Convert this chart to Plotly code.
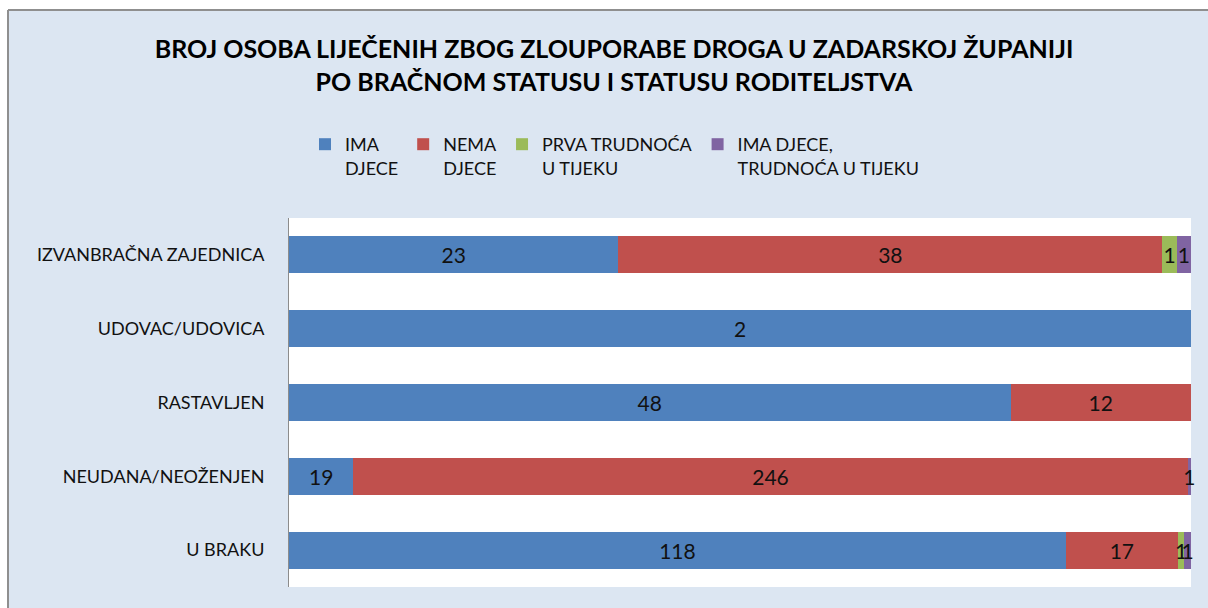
import plotly.graph_objects as go

# Marital status categories (bottom to top on the chart)
categories = ["U BRAKU", "NEUDANA/NEOŽENJEN", "RASTAVLJEN", "UDOVAC/UDOVICA", "IZVANBRAČNA ZAJEDNICA"]

# Number of treated persons per parenthood status
ima_djece = [118, 19, 48, 2, 23]
nema_djece = [17, 246, 12, 0, 38]
prva_trudnoca = [1, 0, 0, 0, 1]
ima_djece_trudnoca = [1, 1, 0, 0, 1]

series = [
    ("IMA<br>DJECE", ima_djece, "#4f81bd"),
    ("NEMA<br>DJECE", nema_djece, "#c0504d"),
    ("PRVA TRUDNOĆA<br>U TIJEKU", prva_trudnoca, "#9bbb59"),
    ("IMA DJECE,<br>TRUDNOĆA U TIJEKU", ima_djece_trudnoca, "#8064a2"),
]

W, H = 1208, 608
ML, MR, MT, MB = 289, 17, 218, 21
PW, PH = W - ML - MR, H - MT - MB


def px_x(px):
    return (px - ML) / PW


def px_y(py):
    return (H - MB - py) / PH


FONT = "Lato"
TEXT = "#111111"

fig = go.Figure()
for name, vals, color in series:
    fig.add_trace(go.Bar(
        y=categories,
        x=vals,
        name=name,
        orientation="h",
        marker=dict(color=color, line=dict(width=0)),
        text=[str(v) if v else "" for v in vals],
        textposition="inside",
        insidetextanchor="middle",
        textfont=dict(family=FONT, size=21, color=TEXT),
        constraintext="none",
        cliponaxis=False,
        hoverinfo="skip",
    ))

fig.update_layout(
    width=W,
    height=H,
    barmode="stack",
    barnorm="percent",
    bargap=0.5,
    margin=dict(l=ML, r=MR, t=MT, b=MB),
    paper_bgcolor="#dce6f2",
    plot_bgcolor="#ffffff",
    uniformtext=dict(minsize=21, mode="show"),
    font=dict(family=FONT, color=TEXT),
    title=dict(
        text="BROJ OSOBA LIJEČENIH ZBOG ZLOUPORABE DROGA U ZADARSKOJ ŽUPANIJI<br>PO BRAČNOM STATUSU I STATUSU RODITELJSTVA",
        font=dict(family=FONT, size=25, color="#000000", weight="bold"),
        x=614 / W,
        xanchor="center",
        xref="container",
        y=1 - 58 / H,
        yanchor="top",
        yref="container",
    ),
    legend=dict(
        orientation="h",
        x=305 / W,
        xanchor="left",
        xref="container",
        y=1 - 126 / H,
        yanchor="top",
        yref="container",
        valign="top",
        traceorder="normal",
        bgcolor="rgba(0,0,0,0)",
        font=dict(family=FONT, size=18, color=TEXT),
        itemclick=False,
        itemdoubleclick=False,
    ),
    xaxis=dict(
        range=[0, 100],
        showgrid=False,
        showticklabels=False,
        zeroline=False,
        showline=False,
        ticks="",
        fixedrange=True,
    ),
    yaxis=dict(
        showgrid=False,
        showline=True,
        linecolor="#8c8c8c",
        linewidth=1,
        ticks="",
        ticklabelstandoff=20,
        tickfont=dict(family=FONT, size=18, color=TEXT),
        fixedrange=True,
    ),
    shapes=[
        # white page strips around the chart frame
        dict(type="rect", xref="paper", yref="paper",
             x0=px_x(0), x1=px_x(W), y0=px_y(10), y1=px_y(0),
             fillcolor="#ffffff", line=dict(width=0), layer="above"),
        dict(type="rect", xref="paper", yref="paper",
             x0=px_x(0), x1=px_x(8), y0=px_y(H), y1=px_y(0),
             fillcolor="#ffffff", line=dict(width=0), layer="above"),
        # chart frame edges
        dict(type="line", xref="paper", yref="paper",
             x0=px_x(8), x1=px_x(W), y0=px_y(10), y1=px_y(10),
             line=dict(color="#8f8f8f", width=2), layer="above"),
        dict(type="line", xref="paper", yref="paper",
             x0=px_x(8), x1=px_x(8), y0=px_y(10), y1=px_y(H),
             line=dict(color="#8f8f8f", width=2), layer="above"),
    ],
    annotations=[
        dict(text="<b>Slika 9.</b>", xref="paper", yref="paper",
             x=px_x(0), y=px_y(6), xanchor="left", yanchor="bottom",
             showarrow=False,
             font=dict(family="Liberation Serif", size=17, color="#000000")),
    ],
)

fig.write_html("out.html", config={"displayModeBar": False})
